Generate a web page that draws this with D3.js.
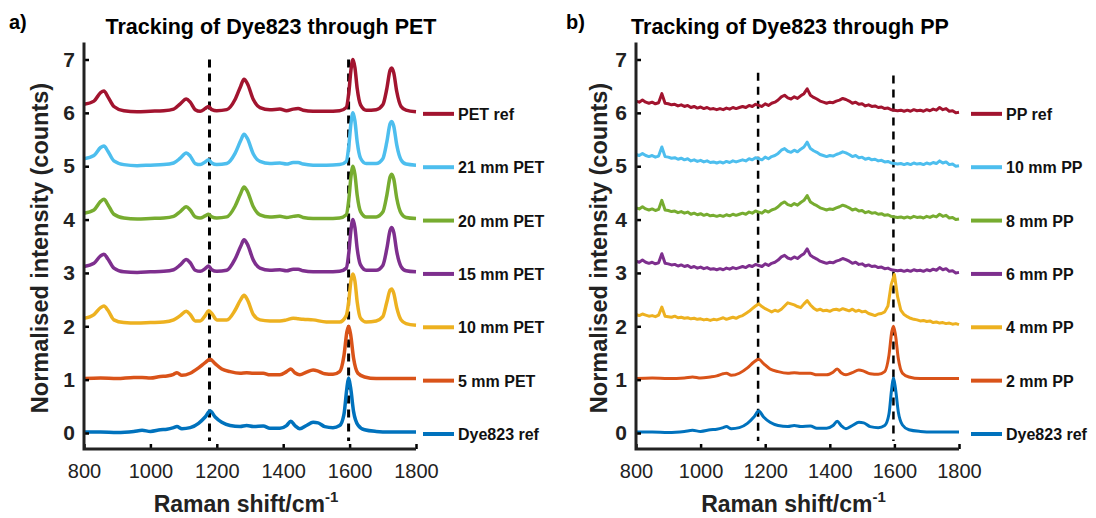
<!DOCTYPE html>
<html>
<head>
<meta charset="utf-8">
<script src="https://cdn.jsdelivr.net/npm/d3@7"></script>
<style>
  body { margin: 0; background: #fff; }
  svg { display: block; }
</style>
</head>
<body>
<div id="chart"></div>
<script>
// axis ticks
const shiftTicks = [800, 1000, 1200, 1400, 1600, 1800];
const intensityTicks = [0, 1, 2, 3, 4, 5, 6, 7];

// stacking offset of each trace (bottom to top)
const offsets = [0, 1, 2, 3, 4, 5, 6];
const seriesColors = ['#0072BD', '#D95319', '#EDB120', '#7E2F8E', '#77AC30', '#4DBEEE', '#A2142F'];
const petLabels = ['Dye823 ref', '5 mm PET', '10 mm PET', '15 mm PET', '20 mm PET', '21 mm PET', 'PET ref'];
const ppLabels = ['Dye823 ref', '2 mm PP', '4 mm PP', '6 mm PP', '8 mm PP', '10 mm PP', 'PP ref'];

// dashed marker lines (Raman shift)
const markerShifts = [1178, 1597];

// dye-like spectra, sampled at these shifts (values relative to their offset)
const dyeShifts = [800, 850, 900, 950, 975, 1000, 1030, 1050, 1070, 1080, 1095, 1120, 1145, 1165, 1180, 1195,
  1215, 1240, 1270, 1290, 1310, 1340, 1360, 1390, 1410, 1423, 1435, 1450, 1470, 1490, 1505, 1525, 1550, 1570,
  1583, 1592, 1597, 1603, 1612, 1625, 1645, 1680, 1720, 1800];
const dye823 = [0.02, 0.02, 0.01, 0.03, 0.05, 0.03, 0.06, 0.07, 0.10, 0.12,
  0.08, 0.10, 0.18, 0.30, 0.41, 0.30, 0.20, 0.14, 0.12, 0.14,
  0.12, 0.13, 0.09, 0.09, 0.14, 0.22, 0.14, 0.08, 0.14, 0.20,
  0.19, 0.12, 0.10, 0.14, 0.35, 0.85, 1.03, 0.85, 0.40, 0.15,
  0.06, 0.03, 0.02, 0.02];
const pet5 = [0.02, 0.03, 0.02, 0.04, 0.04, 0.03, 0.06, 0.07, 0.10, 0.13,
  0.08, 0.12, 0.22, 0.32, 0.38, 0.30, 0.20, 0.15, 0.12, 0.13,
  0.12, 0.12, 0.09, 0.09, 0.15, 0.20, 0.13, 0.09, 0.14, 0.18,
  0.16, 0.11, 0.10, 0.15, 0.45, 0.90, 1.00, 0.85, 0.40, 0.12,
  0.05, 0.02, 0.02, 0.02];
const pp2 = [0.02, 0.03, 0.02, 0.03, 0.05, 0.03, 0.05, 0.07, 0.11, 0.12,
  0.08, 0.12, 0.22, 0.33, 0.38, 0.30, 0.20, 0.15, 0.12, 0.13,
  0.12, 0.12, 0.09, 0.09, 0.14, 0.20, 0.13, 0.09, 0.13, 0.18,
  0.16, 0.11, 0.10, 0.15, 0.45, 0.90, 1.00, 0.85, 0.40, 0.12,
  0.05, 0.02, 0.02, 0.02];

// PET spectra
const petShifts = [800, 830, 850, 860, 872, 890, 920, 960, 1000, 1040, 1070, 1090, 1108, 1120, 1135, 1150,
  1165, 1175, 1185, 1200, 1230, 1255, 1272, 1282, 1292, 1310, 1330, 1360, 1390, 1410, 1430, 1445, 1460,
  1490, 1530, 1570, 1590, 1598, 1604, 1610, 1616, 1623, 1633, 1650, 1680, 1700, 1712, 1722, 1727, 1733,
  1742, 1755, 1770, 1800];
const pet10 = [0.15, 0.22, 0.35, 0.38, 0.30, 0.12, 0.07, 0.06, 0.07, 0.08,
  0.12, 0.20, 0.28, 0.22, 0.10, 0.10, 0.20, 0.29, 0.24, 0.12,
  0.12, 0.30, 0.50, 0.58, 0.50, 0.22, 0.12, 0.10, 0.10, 0.12,
  0.15, 0.14, 0.13, 0.12, 0.08, 0.08, 0.20, 0.50, 0.85, 0.98,
  0.85, 0.45, 0.15, 0.08, 0.10, 0.18, 0.45, 0.68, 0.70, 0.62,
  0.35, 0.12, 0.05, 0.02];
const pet15 = [0.12, 0.18, 0.32, 0.35, 0.26, 0.09, 0.02, 0.01, 0.02, 0.03,
  0.06, 0.15, 0.25, 0.19, 0.05, 0.03, 0.08, 0.13, 0.06, 0.03,
  0.05, 0.26, 0.50, 0.62, 0.54, 0.24, 0.09, 0.05, 0.06, 0.04,
  0.07, 0.07, 0.04, 0.02, 0.02, 0.03, 0.09, 0.40, 0.80, 1.00,
  0.85, 0.45, 0.15, 0.05, 0.05, 0.14, 0.45, 0.80, 0.85, 0.76,
  0.40, 0.12, 0.04, 0.02];
const pet20 = [0.12, 0.18, 0.34, 0.38, 0.28, 0.10, 0.03, 0.01, 0.02, 0.03,
  0.06, 0.15, 0.24, 0.18, 0.05, 0.03, 0.07, 0.10, 0.05, 0.03,
  0.05, 0.25, 0.49, 0.61, 0.53, 0.24, 0.09, 0.05, 0.06, 0.04,
  0.06, 0.07, 0.04, 0.02, 0.02, 0.03, 0.09, 0.40, 0.80, 1.00,
  0.85, 0.45, 0.15, 0.05, 0.05, 0.14, 0.45, 0.80, 0.85, 0.76,
  0.40, 0.12, 0.04, 0.02];
const pet21 = [0.14, 0.20, 0.35, 0.38, 0.28, 0.10, 0.03, 0.01, 0.02, 0.03,
  0.06, 0.15, 0.25, 0.19, 0.05, 0.03, 0.08, 0.12, 0.06, 0.03,
  0.05, 0.24, 0.48, 0.60, 0.52, 0.23, 0.09, 0.05, 0.06, 0.04,
  0.07, 0.07, 0.04, 0.02, 0.02, 0.03, 0.09, 0.40, 0.80, 1.00,
  0.85, 0.45, 0.15, 0.05, 0.05, 0.14, 0.45, 0.80, 0.84, 0.75,
  0.40, 0.12, 0.04, 0.02];
const petRef = [0.16, 0.22, 0.38, 0.41, 0.30, 0.12, 0.04, 0.02, 0.03, 0.04,
  0.07, 0.17, 0.26, 0.20, 0.06, 0.03, 0.08, 0.12, 0.06, 0.04,
  0.06, 0.25, 0.50, 0.63, 0.55, 0.25, 0.10, 0.06, 0.07, 0.04,
  0.07, 0.08, 0.05, 0.03, 0.03, 0.04, 0.10, 0.40, 0.80, 1.00,
  0.85, 0.45, 0.15, 0.05, 0.06, 0.15, 0.45, 0.80, 0.84, 0.75,
  0.40, 0.12, 0.05, 0.02];

// noisy PP spectra, every 10 cm-1 from 800 to 1800
const ppShifts = d3.range(800, 1801, 10);
const pp4 = [0.22, 0.20, 0.23, 0.21, 0.19, 0.20, 0.18, 0.21, 0.36, 0.19,
  0.18, 0.17, 0.19, 0.16, 0.17, 0.15, 0.16, 0.14, 0.15, 0.13,
  0.14, 0.12, 0.13, 0.11, 0.13, 0.12, 0.14, 0.16, 0.13, 0.15,
  0.17, 0.15, 0.18, 0.20, 0.24, 0.28, 0.33, 0.38, 0.42, 0.37,
  0.33, 0.30, 0.27, 0.30, 0.28, 0.32, 0.38, 0.44, 0.42, 0.40,
  0.37, 0.35, 0.42, 0.48, 0.40, 0.34, 0.30, 0.32, 0.29, 0.30,
  0.28, 0.31, 0.32, 0.30, 0.33, 0.31, 0.29, 0.32, 0.28, 0.30,
  0.27, 0.28, 0.24, 0.22, 0.20, 0.23, 0.24, 0.27, 0.38, 0.78,
  0.97, 0.55, 0.30, 0.22, 0.18, 0.15, 0.13, 0.12, 0.10, 0.11,
  0.09, 0.10, 0.07, 0.08, 0.06, 0.07, 0.05, 0.06, 0.04, 0.05,
  0.03];
// PP ref, 10, 8 and 6 mm PP share this profile
const ppProfile = [0.22, 0.20, 0.24, 0.20, 0.18, 0.20, 0.17, 0.19, 0.36, 0.18,
  0.17, 0.15, 0.16, 0.13, 0.15, 0.12, 0.14, 0.10, 0.12, 0.09,
  0.11, 0.08, 0.10, 0.07, 0.08, 0.06, 0.08, 0.06, 0.09, 0.07,
  0.10, 0.08, 0.10, 0.12, 0.10, 0.14, 0.12, 0.16, 0.14, 0.12,
  0.17, 0.14, 0.18, 0.20, 0.24, 0.30, 0.33, 0.28, 0.26, 0.30,
  0.27, 0.32, 0.36, 0.45, 0.33, 0.29, 0.26, 0.22, 0.20, 0.18,
  0.20, 0.19, 0.22, 0.24, 0.27, 0.25, 0.22, 0.18, 0.20, 0.16,
  0.17, 0.13, 0.15, 0.12, 0.13, 0.10, 0.11, 0.08, 0.09, 0.06,
  0.05, 0.04, 0.05, 0.03, 0.05, 0.03, 0.06, 0.04, 0.05, 0.03,
  0.06, 0.04, 0.07, 0.05, 0.10, 0.06, 0.08, 0.03, 0.04, 0.00,
  0.01];

const width = 1096, height = 518;
const font = 'Liberation Sans, Arial, sans-serif';
const svg = d3.select('#chart').append('svg')
  .attr('width', width)
  .attr('height', height);

const yScale = d3.scaleLinear().domain([0, 7]).range([433, 59.5]);

function drawPanel(p) {
  const xScale = d3.scaleLinear().domain([800, 1800]).range([p.x0, p.x1]);
  const g = svg.append('g');

  // dashed markers
  markerShifts.forEach((s, i) => {
    g.append('line')
      .attr('x1', xScale(s)).attr('x2', xScale(s))
      .attr('y1', yScale(p.dashTop[i])).attr('y2', yScale(-0.15))
      .attr('stroke', '#000')
      .attr('stroke-width', p.dashWidth)
      .attr('stroke-dasharray', '8 6');
  });

  // traces
  const line = d3.line()
    .x(d => xScale(d[0]))
    .y(d => yScale(d[1]));
  p.series.forEach((s, i) => {
    const pts = s.shifts.map((x, j) => [x, s.values[j] + offsets[i]]);
    g.append('path')
      .datum(pts)
      .attr('fill', 'none')
      .attr('stroke', seriesColors[i])
      .attr('stroke-width', p.lineWidth)
      .attr('stroke-linejoin', 'round')
      .attr('d', line.curve(s.smooth ? d3.curveMonotoneX : d3.curveLinear));
  });

  // axes
  const yAxis = g.append('g')
    .attr('transform', `translate(${p.x0},0)`)
    .call(d3.axisLeft(yScale).tickValues(intensityTicks).tickSize(-5).tickPadding(9).tickFormat(d3.format('d')));
  yAxis.select('.domain').remove();
  yAxis.selectAll('.tick line').attr('stroke-width', 2.5);
  yAxis.selectAll('text')
    .attr('font-family', font)
    .attr('font-size', 21).attr('font-weight', 'bold').attr('fill', '#222');

  const xAxis = g.append('g')
    .attr('transform', `translate(0,${yScale(-0.3)})`)
    .call(d3.axisBottom(xScale).tickValues(shiftTicks).tickSize(-5).tickPadding(15).tickFormat(d3.format('d')));
  xAxis.select('.domain').remove();
  xAxis.selectAll('.tick line').attr('stroke-width', 2.5);
  xAxis.selectAll('text')
    .attr('font-family', font)
    .attr('font-size', 20).attr('fill', '#222');

  g.append('path')
    .attr('d', `M${p.x0},${yScale(7.32)}V${yScale(-0.3)}H${p.x1}`)
    .attr('fill', 'none').attr('stroke', '#222').attr('stroke-width', 3);

  // legend
  p.series.forEach((s, i) => {
    const ly = yScale(offsets[i]) + 1;
    g.append('line')
      .attr('x1', p.legendX).attr('x2', p.legendX + 31)
      .attr('y1', ly).attr('y2', ly)
      .attr('stroke', seriesColors[i]).attr('stroke-width', 4);
    g.append('text')
      .attr('x', p.legendX + 35).attr('y', ly + 6)
      .attr('font-family', font)
      .attr('font-size', 16).attr('font-weight', 'bold').attr('fill', '#111')
      .text(s.label);
  });

  // titles and labels
  g.append('text')
    .attr('x', p.tagX).attr('y', 29)
    .attr('font-family', font)
    .attr('font-size', 20).attr('font-weight', 'bold')
    .text(p.tag);
  g.append('text')
    .attr('x', p.titleX).attr('y', 34)
    .attr('text-anchor', 'middle')
    .attr('font-family', font)
    .attr('font-size', 21.5).attr('font-weight', 'bold')
    .text(p.title);
  g.append('text')
    .attr('transform', `translate(${p.yLabelX},${p.yLabelY}) rotate(-90)`)
    .attr('text-anchor', 'middle')
    .attr('font-family', font)
    .attr('font-size', 23.5).attr('font-weight', 'bold').attr('fill', '#222')
    .text('Normalised intensity (counts)');
  const xl = g.append('text')
    .attr('x', (p.x0 + p.x1) / 2 - 4).attr('y', 512)
    .attr('text-anchor', 'middle')
    .attr('font-family', font)
    .attr('font-size', 23).attr('font-weight', 'bold').attr('fill', '#222');
  xl.append('tspan').text('Raman shift/cm');
  xl.append('tspan').attr('dy', -10).attr('font-size', 15).text('-1');
}

drawPanel({
  x0: 84, x1: 416, tag: 'a)', tagX: 9, title: 'Tracking of Dye823 through PET', titleX: 271,
  yLabelX: 48, yLabelY: 248, legendX: 423, dashTop: [7.0, 7.0], dashWidth: 3, lineWidth: 3.5,
  series: [
    { label: petLabels[0], shifts: dyeShifts, values: dye823, smooth: true },
    { label: petLabels[1], shifts: dyeShifts, values: pet5, smooth: true },
    { label: petLabels[2], shifts: petShifts, values: pet10, smooth: true },
    { label: petLabels[3], shifts: petShifts, values: pet15, smooth: true },
    { label: petLabels[4], shifts: petShifts, values: pet20, smooth: true },
    { label: petLabels[5], shifts: petShifts, values: pet21, smooth: true },
    { label: petLabels[6], shifts: petShifts, values: petRef, smooth: true }
  ]
});

drawPanel({
  x0: 636, x1: 959, tag: 'b)', tagX: 566, title: 'Tracking of Dye823 through PP', titleX: 790,
  yLabelX: 607, yLabelY: 248, legendX: 971, dashTop: [6.75, 6.7], dashWidth: 2.5, lineWidth: 3,
  series: [
    { label: ppLabels[0], shifts: dyeShifts, values: dye823, smooth: true },
    { label: ppLabels[1], shifts: dyeShifts, values: pp2, smooth: true },
    { label: ppLabels[2], shifts: ppShifts, values: pp4, smooth: false },
    { label: ppLabels[3], shifts: ppShifts, values: ppProfile, smooth: false },
    { label: ppLabels[4], shifts: ppShifts, values: ppProfile, smooth: false },
    { label: ppLabels[5], shifts: ppShifts, values: ppProfile, smooth: false },
    { label: ppLabels[6], shifts: ppShifts, values: ppProfile, smooth: false }
  ]
});
</script>
</body>
</html>
